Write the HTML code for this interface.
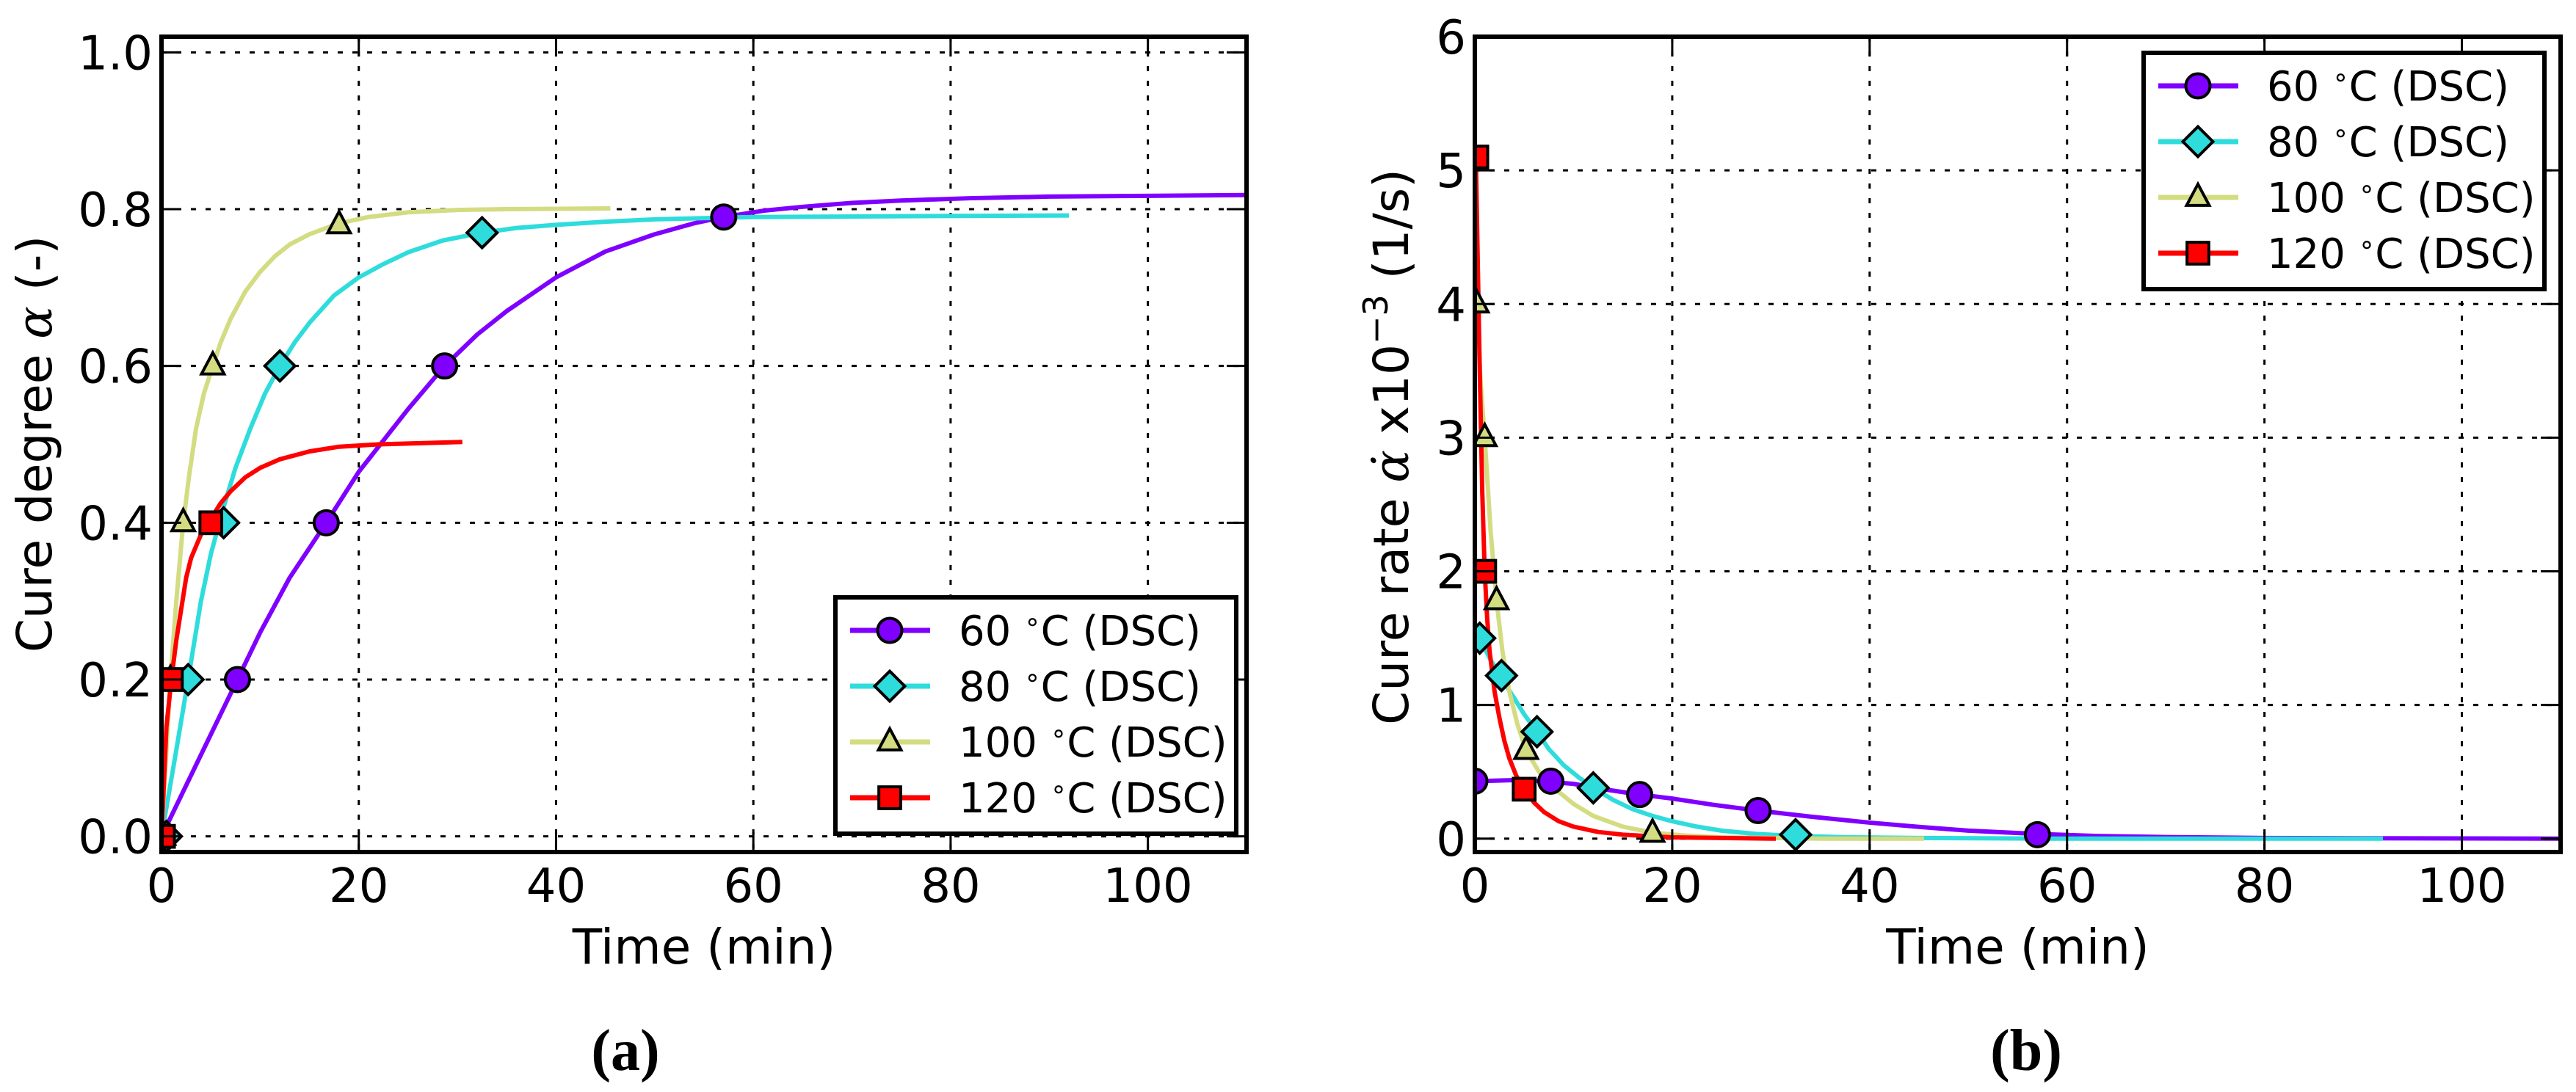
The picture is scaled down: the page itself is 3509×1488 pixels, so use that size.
<!DOCTYPE html>
<html><head><meta charset="utf-8"><style>
html,body{margin:0;padding:0;background:#fff}
svg{display:block}
text{font-family:"DejaVu Sans","Liberation Sans",sans-serif;fill:#000}
</style></head><body>
<svg id="fig" width="3509" height="1488" viewBox="0 0 3509 1488" xmlns="http://www.w3.org/2000/svg">
<g id="pa"></g>
<g id="pb"></g>
<text x="852" y="1458" text-anchor="middle" style="font-family:'Liberation Serif',serif;font-weight:bold;font-size:80px">(a)</text>
<text x="2760" y="1458" text-anchor="middle" style="font-family:'Liberation Serif',serif;font-weight:bold;font-size:80px">(b)</text>
</svg>
<script>
// ---- data ----
const seriesNames = ["60 °C (DSC)","80 °C (DSC)","100 °C (DSC)","120 °C (DSC)"];
const seriesColors = ["#7f00ff","#2fdcdc","#d4dc82","#ff0000"];
const seriesMarkers = ["circle","diamond","triangle","square"];
const xTicks = [0,20,40,60,80,100];
const yTicksA = [0.0,0.2,0.4,0.6,0.8,1.0];
const yTickLabelsA = ["0.0","0.2","0.4","0.6","0.8","1.0"];
const yTicksB = [0,1,2,3,4,5,6];
const yTickLabelsB = ["0","1","2","3","4","5","6"];

// Panel a: cure degree markers
const degMk60 = [[0,0],[7.7,0.2],[16.7,0.4],[28.7,0.6],[57,0.79]];
const degMk80 = [[0.5,0],[2.7,0.2],[6.3,0.4],[12,0.6],[32.5,0.77]];
const degMk100 = [[0.2,0],[0.9,0.2],[2.2,0.4],[5.2,0.6],[18,0.78]];
const degMk120 = [[0.2,0],[1,0.2],[5,0.4]];
// Panel a: fitted curves
const degFit60 = [[0,0],[5,0.13],[7.7,0.2],[10,0.26],[13,0.33],[16.7,0.4],[20,0.465],[25,0.545],[28.7,0.6],[32,0.64],[35,0.67],[40,0.713],[45,0.746],[50,0.768],[54,0.782],[57,0.79],[61,0.798],[65,0.803],[70,0.808],[75,0.811],[82,0.814],[90,0.816],[100,0.817],[110,0.818]];
const degFit80 = [[0,0],[1.5,0.11],[2.7,0.2],[4,0.3],[5,0.36],[6.3,0.42],[7.5,0.47],[9,0.52],[10.5,0.565],[12,0.6],[13.5,0.63],[15,0.655],[17.5,0.69],[20,0.713],[22.5,0.73],[25,0.745],[28.5,0.76],[32.5,0.77],[36,0.776],[40,0.78],[45,0.784],[50,0.787],[60,0.79],[75,0.791],[92,0.792]];
const degFit100 = [[0,0],[0.9,0.2],[1.5,0.3],[2.2,0.4],[2.8,0.46],[3.5,0.52],[4.3,0.565],[5.2,0.6],[6,0.63],[7,0.66],[8.5,0.695],[10,0.72],[11.5,0.74],[13,0.755],[15,0.768],[18,0.782],[21,0.79],[25,0.796],[30,0.799],[35,0.8],[45.5,0.801]];
const degFit120 = [[0,0],[0.5,0.14],[1,0.2],[1.5,0.25],[2,0.29],[2.5,0.33],[3,0.355],[4,0.385],[5,0.405],[6,0.425],[7,0.44],[8.5,0.458],[10,0.47],[12,0.481],[15,0.491],[18,0.497],[22,0.5],[30.5,0.503]];
// Panel b: cure rate markers
const rateMk60 = [[0,0.43],[7.7,0.43],[16.7,0.33],[28.7,0.21],[57,0.03]];
const rateMk80 = [[0.5,1.5],[2.7,1.22],[6.3,0.8],[12,0.38],[32.5,0.03]];
const rateMk100 = [[0.2,4.0],[1.0,3.0],[2.2,1.78],[5.2,0.66],[18,0.04]];
const rateMk120 = [[0.2,5.1],[1,2.0],[5,0.37]];
// Panel b: fitted curves
const rateFit60 = [[0,0.43],[5,0.44],[10,0.41],[13,0.37],[16.7,0.33],[20,0.3],[24,0.255],[28.7,0.21],[34,0.165],[40,0.12],[45,0.088],[50,0.06],[57,0.035],[63,0.02],[70,0.012],[80,0.005],[90,0.003],[110,0]];
const rateFit80 = [[0.5,1.5],[1.5,1.35],[2.7,1.2],[4,1.05],[5,0.93],[6.3,0.8],[7.5,0.67],[9,0.55],[10.5,0.46],[12,0.38],[14,0.29],[16,0.22],[18,0.17],[20,0.13],[22.5,0.09],[25,0.06],[28.5,0.035],[32.5,0.02],[38,0.01],[45,0.005],[60,0],[92,0]];
const rateFit100 = [[0.2,4.0],[0.6,3.4],[1,3.0],[1.6,2.3],[2.2,1.78],[2.8,1.4],[3.5,1.1],[4.3,0.86],[5.2,0.66],[6.5,0.5],[8,0.38],[10,0.26],[12,0.17],[15,0.09],[18,0.045],[21,0.025],[25,0.01],[35,0],[45.5,0]];
const rateFit120 = [[0.1,5.1],[0.3,4.3],[0.5,3.5],[0.75,2.6],[1,2.0],[1.25,1.65],[1.5,1.4],[2,1.1],[2.5,0.9],[3,0.73],[3.5,0.6],[4.2,0.47],[5,0.37],[6,0.27],[7,0.2],[8.5,0.13],[10,0.09],[12.5,0.05],[15,0.03],[20,0.01],[30.5,0]];

const NS="http://www.w3.org/2000/svg";
function mk(tag,attrs,parent){const e=document.createElementNS(NS,tag);for(const k in attrs)e.setAttribute(k,attrs[k]);if(parent)parent.appendChild(e);return e;}

function marker(g,type,cx,cy,color,s){
  let e;
  if(type==="circle"){e=mk("ellipse",{cx:cx,cy:cy,rx:s*0.5,ry:s*0.5},g);}
  else if(type==="diamond"){const r=s*0.62;e=mk("polygon",{points:`${cx},${cy-r} ${cx+r},${cy} ${cx},${cy+r} ${cx-r},${cy}`},g);}
  else if(type==="triangle"){const r=s*0.55;e=mk("polygon",{points:`${cx},${cy-r} ${cx+r*0.85},${cy+r*0.6} ${cx-r*0.85},${cy+r*0.6}`},g);}
  else {const r=s*0.45;e=mk("rect",{x:cx-r,y:cy-r,width:2*r,height:2*r},g);}
  e.setAttribute("fill",color);e.setAttribute("stroke","#000");e.setAttribute("stroke-width","4");
  return e;
}

function panel(g,cfg){
  const L=cfg.L,R=cfg.R,T=50,B=1161;
  const xs=v=>L+(v-0)/(110-0)*(R-L);
  const ys=v=>B-(v-cfg.ymin)/(cfg.ymax-cfg.ymin)*(B-T);
  const grid=mk("g",{},g);
  
  
  xTicks.forEach(t=>{ if(t>0){mk("line",{x1:xs(t),x2:xs(t),y1:T,y2:B,stroke:"#000","stroke-width":3,"stroke-dasharray":"7,13"},grid);} });
  cfg.yt.forEach(t=>{ mk("line",{x1:L,x2:R,y1:ys(t),y2:ys(t),stroke:"#000","stroke-width":3,"stroke-dasharray":"7,13"},grid); });
  const clip=mk("clipPath",{id:cfg.id+"clip"},g);mk("rect",{x:L,y:T,width:R-L,height:B-T},clip);
  const cg=mk("g",{"clip-path":`url(#${cfg.id}clip)`},g);
  cfg.fits.forEach((arr,i)=>{
    const p=mk("polyline",{points:arr.map(d=>xs(d[0])+","+ys(d[1])).join(" "),fill:"none",stroke:seriesColors[i],"stroke-width":6,"stroke-linejoin":"round"},cg);
    
    
  });
  cfg.mks.forEach((arr,i)=>{
    arr.forEach(d=>{
      const m=marker(cg,seriesMarkers[i],xs(d[0]),ys(d[1]),seriesColors[i],33);
      
      
    });
  });
  const tk=mk("g",{stroke:"#000","stroke-width":3},g);
  xTicks.forEach(t=>{mk("line",{x1:xs(t),x2:xs(t),y1:B,y2:B-27},tk);mk("line",{x1:xs(t),x2:xs(t),y1:T,y2:T+27},tk);
    const tl=mk("text",{x:xs(t),y:1229,"text-anchor":"middle","font-size":64},g);tl.textContent=t;
    
    
  });
  cfg.yt.forEach((t,i)=>{mk("line",{x1:L,x2:L+27,y1:ys(t),y2:ys(t)},tk);mk("line",{x1:R,x2:R-27,y1:ys(t),y2:ys(t)},tk);
    const tl=mk("text",{x:L-12,y:ys(t)+23,"text-anchor":"end","font-size":64},g);tl.textContent=cfg.ytl[i];
    
    
  });
  const fr=mk("rect",{x:L,y:T,width:R-L,height:B-T,fill:"none",stroke:"#000","stroke-width":6},g);
  
  
  const xl=mk("text",{x:(L+R)/2,y:1313,"text-anchor":"middle","font-size":66},g);xl.textContent="Time (min)";
  
  
  const lg=mk("g",{},g);
  
  
  mk("rect",{x:cfg.lx,y:cfg.ly,width:546,height:322,fill:"#fff",stroke:"#000","stroke-width":6},lg);
  seriesNames.forEach((n,i)=>{
    const cy=cfg.ly+45+i*76;
    const e=mk("g",{},lg);
    
    
    mk("line",{x1:cfg.lx+20,x2:cfg.lx+129,y1:cy,y2:cy,stroke:seriesColors[i],"stroke-width":7},e);
    marker(e,seriesMarkers[i],cfg.lx+74,cy,seriesColors[i],33);
    const parts=n.split(" ");
    const t=mk("text",{x:cfg.lx+168,y:cy+20,"font-size":56},e);
    const a=mk("tspan",{},t);a.textContent=parts[0]+" ";
    const b=mk("tspan",{dy:-20,"font-size":36},t);b.textContent="∘";
    const c=mk("tspan",{dy:20},t);c.textContent="C "+parts[2];
  });
}

panel(document.getElementById("pa"),{id:"a",L:220,R:1698,ymin:-0.02,ymax:1.02,yt:yTicksA,ytl:yTickLabelsA,
  fits:[degFit60,degFit80,degFit100,degFit120],mks:[degMk60,degMk80,degMk100,degMk120],lx:1138,ly:814});
panel(document.getElementById("pb"),{id:"b",L:2009,R:3488,ymin:-0.1,ymax:6,yt:yTicksB,ytl:yTickLabelsB,
  fits:[rateFit60,rateFit80,rateFit100,rateFit120],mks:[rateMk60,rateMk80,rateMk100,rateMk120],lx:2920,ly:72});

const fig=document.getElementById("fig");
const ya=mk("text",{transform:"translate(70,605) rotate(-90)","text-anchor":"middle","font-size":66},fig);


ya.innerHTML='Cure degree <tspan style="font-family:\'DejaVu Serif\',serif;font-style:italic">α</tspan> (-)';
const yb=mk("text",{transform:"translate(1918,609) rotate(-90)","text-anchor":"middle","font-size":66},fig);


yb.innerHTML='Cure rate <tspan style="font-family:\'DejaVu Serif\',serif;font-style:italic">α̇</tspan> x10<tspan dy="-28" font-size="46">−3</tspan><tspan dy="28">  (1/s)</tspan>';
</script>
</body></html>
